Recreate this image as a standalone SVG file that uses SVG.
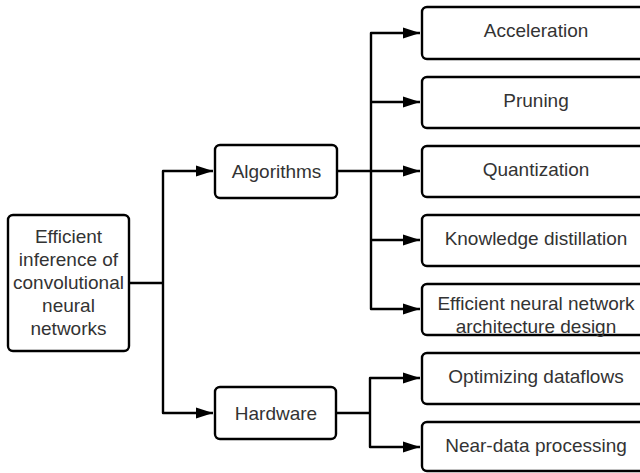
<svg xmlns="http://www.w3.org/2000/svg" width="640" height="473" viewBox="0 0 640 473">
  <style>
    .box { fill: #ffffff; stroke: #000000; stroke-width: 2.4; }
    .lbl { font-family: "Liberation Sans", Arial, sans-serif; font-size: 19px; fill: #333333; text-anchor: middle; }
    .wire { fill: none; stroke: #000000; stroke-width: 2.4; stroke-linejoin: round; }
  </style>
  <defs>
    <marker id="arrow" markerUnits="userSpaceOnUse" markerWidth="18" markerHeight="12" refX="17" refY="6" orient="auto">
      <path d="M0,0.5 L17,6 L0,11.5 Z" fill="#000000"/>
    </marker>
  </defs>

  <rect width="640" height="473" fill="#ffffff"/>

  <!-- connectors: shared trunks drawn once, then one arrowed branch per child -->
  <g id="connectors">
    <!-- root -> Algorithms / Hardware -->
    <path class="wire" d="M129,283 H163"/>
    <path class="wire" d="M213,171 H163 V413 H213" marker-start="url(#arrowRev)" marker-end="url(#arrow)"/>
    <!-- Algorithms -> techniques -->
    <path class="wire" d="M337,171 H371"/>
    <path class="wire" d="M420,33 H371 V309 H420" marker-start="url(#arrowRev)" marker-end="url(#arrow)"/>
    <path class="wire" d="M371,102 H420" marker-end="url(#arrow)"/>
    <path class="wire" d="M371,171 H420" marker-end="url(#arrow)"/>
    <path class="wire" d="M371,240 H420" marker-end="url(#arrow)"/>
    <!-- Hardware -> techniques -->
    <path class="wire" d="M336,413 H370"/>
    <path class="wire" d="M420,378 H370 V447 H420" marker-start="url(#arrowRev)" marker-end="url(#arrow)"/>
  </g>

  <defs>
    <marker id="arrowRev" markerUnits="userSpaceOnUse" markerWidth="18" markerHeight="12" refX="0" refY="6" orient="auto">
      <path d="M17,0.5 L0,6 L17,11.5 Z" fill="#000000"/>
    </marker>
  </defs>

  <g id="root">
    <rect class="box" x="8" y="215" width="121" height="136" rx="5"/>
    <text class="lbl" x="68.5" y="243">Efficient</text>
    <text class="lbl" x="68.5" y="266">inference of</text>
    <text class="lbl" x="68.5" y="289">convolutional</text>
    <text class="lbl" x="68.5" y="312">neural</text>
    <text class="lbl" x="68.5" y="335">networks</text>
  </g>

  <g id="algorithms">
    <rect class="box" x="215" y="145" width="122" height="53" rx="5"/>
    <text class="lbl" x="276.5" y="178">Algorithms</text>
  </g>

  <g id="hardware">
    <rect class="box" x="215" y="387" width="121" height="52" rx="5"/>
    <text class="lbl" x="276" y="420">Hardware</text>
  </g>

  <g id="acceleration">
    <rect class="box" x="422" y="7" width="228" height="52" rx="5"/>
    <text class="lbl" x="536" y="37">Acceleration</text>
  </g>

  <g id="pruning">
    <rect class="box" x="422" y="77" width="228" height="51" rx="5"/>
    <text class="lbl" x="536" y="107">Pruning</text>
  </g>

  <g id="quantization">
    <rect class="box" x="422" y="146" width="228" height="51" rx="5"/>
    <text class="lbl" x="536" y="176">Quantization</text>
  </g>

  <g id="distillation">
    <rect class="box" x="422" y="215" width="228" height="51" rx="5"/>
    <text class="lbl" x="536" y="245">Knowledge distillation</text>
  </g>

  <g id="architecture">
    <rect class="box" x="422" y="284" width="228" height="51" rx="5"/>
    <text class="lbl" x="536" y="310">Efficient neural network</text>
    <text class="lbl" x="536" y="333">architecture design</text>
  </g>

  <g id="dataflows">
    <rect class="box" x="422" y="353" width="228" height="51" rx="5"/>
    <text class="lbl" x="536" y="383">Optimizing dataflows</text>
  </g>

  <g id="near-data">
    <rect class="box" x="422" y="422" width="228" height="49" rx="5"/>
    <text class="lbl" x="536" y="452">Near-data processing</text>
  </g>
</svg>
